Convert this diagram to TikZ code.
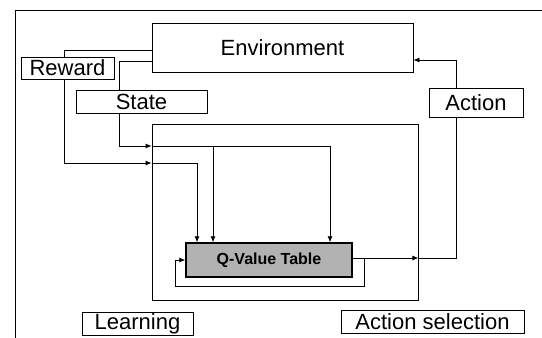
\documentclass[tikz,border=0pt]{standalone}
\usepackage{fontspec}
\setmainfont{Liberation Sans}
\usetikzlibrary{arrows.meta}
\begin{document}
\begin{tikzpicture}[x=1pt,y=-1pt,
  box/.style={draw,line width=0.8pt,inner sep=0pt,font=\fontsize{22}{24}\selectfont},
  arr/.style={-{Latex[length=6pt,width=5pt]}},
  ln/.style={line width=0.8pt}]
\useasboundingbox (0,0) rectangle (542,338);
\fill[white] (0,0) rectangle (542,338);
\draw[ln] (15,345) -- (15,10) -- (548,10);
\node[box,minimum width=261pt,minimum height=49pt] (env) at (282.5,47.5) {Environment};
\node[box,minimum width=93pt,minimum height=22pt] (reward) at (67.5,68) {Reward};
\node[box,minimum width=131pt,minimum height=23pt] (state) at (141.5,101.5) {State};
\node[box,minimum width=94pt,minimum height=29pt] (action) at (476,102.5) {Action};
\node[draw,line width=0.8pt,minimum width=266pt,minimum height=176pt] (inner) at (285,212) {};
\node[draw,line width=1.5pt,fill=gray!60,minimum width=166pt,minimum height=34pt,inner sep=0pt,
      font=\fontsize{16}{18}\selectfont\bfseries] (q) at (269,260) {Q-Value Table};
\node[box,minimum width=111pt,minimum height=23pt] (learn) at (137.5,323.5) {Learning};
\node[box,minimum width=183pt,minimum height=23pt] (asel) at (432.5,321.5) {Action selection};
\coordinate (yR) at (0,163);
\coordinate (yS) at (0,146);
\coordinate (yA) at (0,258);
\coordinate (loopR) at (364,286);
\coordinate (loopL) at (175,286);
% reward path
\draw[ln] ([yshift=-2.5pt]env.west) -| ([xshift=-3.5pt]reward.north);
\draw[ln,arr] ([xshift=-3.5pt]reward.south) |- (inner.west |- yR);
\draw[ln,arr] (inner.west |- yR) -| ([xshift=-72pt]q.north);
% state path
\draw[ln] ([yshift=-13.5pt]env.west) -| ([xshift=-22.5pt]state.north);
\draw[ln,arr] ([xshift=-22.5pt]state.south) |- (inner.west |- yS);
\draw[ln,arr] (inner.west |- yS) -| ([xshift=61pt]q.north);
\draw[ln,arr] ([xshift=-56pt]q.north |- yS) -- ([xshift=-56pt]q.north);
% action path
\draw[ln,arr] (q.east |- yA) -- (inner.east |- yA);
\draw[ln] (inner.east |- yA) -| ([xshift=-20pt]action.south);
\draw[ln,arr] ([xshift=-20pt]action.north) |- ([yshift=-12.5pt]env.east);
% feedback loop
\draw[ln,arr] (loopR |- yA) -- (loopR) -- (loopL) |- (q.west);
\end{tikzpicture}
\end{document}
